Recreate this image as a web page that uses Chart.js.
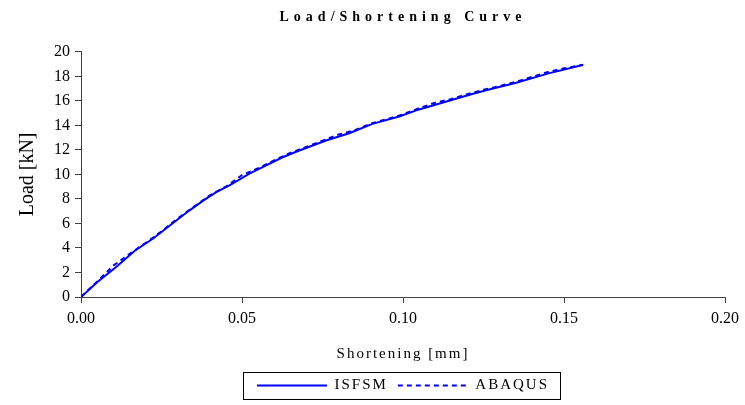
<!DOCTYPE html>
<html>
<head>
<meta charset="utf-8">
<script src="https://cdn.jsdelivr.net/npm/chart.js@4.4.1/dist/chart.umd.min.js"></script>
<style>
  html, body { margin: 0; background: #fff; }
</style>
</head>
<body>
<canvas id="chart" width="745" height="405"></canvas>
<script>
// Valeurs
const isfsmX = [0, 0.005, 0.011, 0.0167, 0.0224, 0.0337, 0.0384, 0.042, 0.0461, 0.0523, 0.0564, 0.0626,
  0.0678, 0.0761, 0.0833, 0.0905, 0.0988, 0.105, 0.1127, 0.1215, 0.1261, 0.1349, 0.1452, 0.1558];
const isfsmLoad = [0, 1.2, 2.46, 3.77, 4.77, 7.07, 7.94, 8.56, 9.1, 10.06, 10.6, 11.4,
  11.95, 12.76, 13.36, 14.12, 14.72, 15.3, 15.88, 16.56, 16.89, 17.45, 18.24, 18.92];

const abaqusX = [0, 0.005, 0.010, 0.015, 0.020, 0.025, 0.030, 0.035, 0.040, 0.045, 0.050, 0.055, 0.060,
  0.065, 0.070, 0.075, 0.080, 0.085, 0.090, 0.095, 0.100, 0.105, 0.110, 0.115, 0.120, 0.125, 0.130,
  0.135, 0.140, 0.145, 0.150, 0.156];
const abaqusLoad = [0, 1.25, 2.55, 3.5, 4.4, 5.35, 6.4, 7.35, 8.3, 9.0, 9.95, 10.5, 11.15,
  11.75, 12.25, 12.75, 13.25, 13.6, 14.15, 14.5, 14.9, 15.4, 15.85, 16.15, 16.55, 16.9, 17.2,
  17.55, 17.95, 18.35, 18.65, 18.95];

const seriesNames = ["ISFSM", "ABAQUS"];
const xTicks = [0, 0.05, 0.10, 0.15, 0.20];
const yTicks = [0, 2, 4, 6, 8, 10, 12, 14, 16, 18, 20];

const SERIF = "'Liberation Serif', 'Times New Roman', serif";
const AXIS = "#404040";
const BLUE = "#0000FF";

function toPoints(xs, ys) {
  return xs.map((x, i) => ({ x: x, y: ys[i] }));
}

// Espacement des lettres (titre, légende, titre de l'axe x) comme dans Excel
function spaced(obj, method, spacing, ctx) {
  const orig = obj[method];
  if (!orig || orig._spaced) return;
  const wrapped = function (...args) {
    const prev = ctx.letterSpacing;
    ctx.letterSpacing = spacing;
    const r = orig.apply(this, args);
    ctx.letterSpacing = prev;
    return r;
  };
  wrapped._spaced = true;
  obj[method] = wrapped;
}

const spacingPlugin = {
  id: "spacing",
  beforeLayout(chart) {
    const ctx = chart.ctx;
    if (chart.titleBlock) spaced(chart.titleBlock, "draw", "5px", ctx);
    if (chart.legend) {
      spaced(chart.legend, "fit", "2px", ctx);
      spaced(chart.legend, "draw", "2px", ctx);
    }
    if (chart.scales.x) spaced(chart.scales.x, "drawTitle", "2px", ctx);
  },
};

// Cadre autour de la légende
const legendBorder = {
  id: "legendBorder",
  afterDraw(chart) {
    const boxes = chart.legend && chart.legend.legendHitBoxes;
    if (!boxes || !boxes.length) return;
    const left = Math.min(...boxes.map(b => b.left)) - 14;
    const right = Math.max(...boxes.map(b => b.left + b.width)) + 11;
    const cy = boxes[0].top + boxes[0].height / 2;
    const ctx = chart.ctx;
    ctx.save();
    ctx.strokeStyle = "#000";
    ctx.lineWidth = 1;
    ctx.strokeRect(Math.round(left) + 0.5, Math.round(cy - 13.5) + 0.5, Math.round(right - left), 27);
    ctx.restore();
  },
};

const ctx = document.getElementById("chart").getContext("2d");

new Chart(ctx, {
  type: "scatter",
  data: {
    datasets: [
      {
        label: seriesNames[0],
        data: toPoints(isfsmX, isfsmLoad),
        showLine: true,
        borderColor: BLUE,
        backgroundColor: BLUE,
        borderWidth: 2,
        pointRadius: 0,
        tension: 0,
      },
      {
        label: seriesNames[1],
        data: toPoints(abaqusX, abaqusLoad),
        showLine: true,
        borderColor: BLUE,
        backgroundColor: BLUE,
        borderWidth: 2,
        borderDash: [5, 4],
        pointRadius: 0,
        tension: 0,
      },
    ],
  },
  options: {
    responsive: false,
    animation: false,
    layout: { padding: { left: 0, right: 18, top: 0, bottom: 2 } },
    plugins: {
      title: {
        display: true,
        fullSize: false,
        text: "Load/Shortening Curve",
        color: "#000",
        font: { family: SERIF, size: 14, weight: "bold" },
        padding: { top: 9, bottom: 26 },
      },
      legend: {
        position: "bottom",
        fullSize: false,
        labels: {
          // échantillon en trait fin : hauteur nulle, seul le contour est tracé
          boxWidth: 70,
          boxHeight: 0,
          color: "#000",
          font: { family: SERIF, size: 15 },
          padding: 10,
        },
      },
      tooltip: { enabled: false },
    },
    scales: {
      x: {
        type: "linear",
        min: xTicks[0],
        max: xTicks[xTicks.length - 1],
        afterFit: (s) => { s.height = 71; },
        afterBuildTicks: (s) => { s.ticks = xTicks.map(v => ({ value: v })); },
        ticks: {
          callback: (v) => Number(v).toFixed(2),
          color: "#000",
          font: { family: SERIF, size: 16 },
          padding: 6,
        },
        grid: { display: true, drawOnChartArea: false, tickLength: 6, color: AXIS },
        border: { color: AXIS, width: 1 },
        title: {
          display: true,
          text: "Shortening [mm]",
          color: "#000",
          font: { family: SERIF, size: 15 },
          padding: { top: 0, bottom: 5 },
        },
      },
      y: {
        min: yTicks[0],
        max: yTicks[yTicks.length - 1],
        afterFit: (s) => { s.width = 81; },
        afterBuildTicks: (s) => { s.ticks = yTicks.map(v => ({ value: v })); },
        ticks: {
          color: "#000",
          font: { family: SERIF, size: 16 },
          padding: 5,
        },
        grid: { display: true, drawOnChartArea: false, tickLength: 6, color: AXIS },
        border: { color: AXIS, width: 1 },
        title: {
          display: true,
          text: "Load [kN]",
          color: "#000",
          font: { family: SERIF, size: 20 },
          padding: { top: 16, bottom: 0 },
        },
      },
    },
  },
  plugins: [spacingPlugin, legendBorder],
});
</script>
</body>
</html>
